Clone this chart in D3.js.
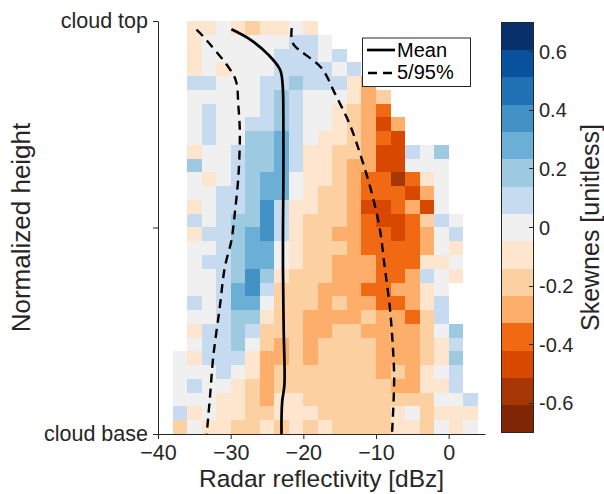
<!DOCTYPE html>
<html>
<head>
<meta charset="utf-8">
<script src="https://cdn.jsdelivr.net/npm/d3@7/dist/d3.min.js"></script>
<style>
body{margin:0;background:#fff;}
svg{display:block;font-family:"Liberation Sans",Arial,Helvetica,sans-serif;}
</style>
</head>
<body>
<script>
// reflectivity bins (lower edge, dBz), 2 dBz wide
var dbzBins = [-38,-36,-34,-32,-30,-28,-26,-24,-22,-20,-18,-16,-14,-12,-10,-8,-6,-4,-2,0,2];
// normalized height bins (lower edge), top row first
var heightBins = [0.9667,0.9333,0.9,0.8667,0.8333,0.8,0.7667,0.7333,0.7,0.6667,0.6333,0.6,0.5667,0.5333,0.5,
                  0.4667,0.4333,0.4,0.3667,0.3333,0.3,0.2667,0.2333,0.2,0.1667,0.1333,0.1,0.0667,0.0333,0];
var N = null;
// skewness per cell, rows follow heightBins, columns follow dbzBins
var skew = [
 [N,-.1,-.1,0,-.1,-.2,-.1,-.1,0,-.1,N,N,N,N,N,N,N,N,N,N,N],
 [N,-.1,0,0,0,0,0,0,.1,.1,0,N,N,N,N,N,N,N,N,N,N],
 [N,-.1,0,0,0,0,0,.1,.1,.1,0,.1,N,N,N,N,N,N,N,N,N],
 [N,-.1,0,-.1,0,0,0,.1,.1,.1,.1,0,.1,N,N,N,N,N,N,N,N],
 [N,.1,.1,0,0,0,.1,.1,.2,.1,.1,.1,-.1,-.3,N,N,N,N,N,N,N],
 [N,0,0,0,0,0,.1,.2,.1,0,0,0,-.1,-.3,-.2,N,N,N,N,N,N],
 [N,0,.1,0,0,0,.1,.2,.1,0,0,-.1,-.2,-.3,-.4,N,N,N,N,N,N],
 [N,0,.1,0,0,.1,.1,.2,.1,0,0,-.1,-.2,-.3,-.5,-.3,N,N,N,N,N],
 [N,0,.1,0,0,.2,.2,.3,.1,0,-.1,-.1,-.2,-.3,-.4,-.5,N,N,N,N,N],
 [N,-.1,0,0,.1,.2,.2,.3,.1,-.1,-.1,-.2,-.2,-.3,-.5,-.5,.1,0,.2,N,N],
 [N,.2,0,0,.1,.2,.2,.3,.1,-.1,-.1,-.2,-.3,-.3,-.5,-.5,0,0,0,N,N],
 [N,0,-.1,0,.1,.2,.3,.3,0,-.1,-.1,-.2,-.3,-.4,-.4,-.6,-.4,-.1,0,N,N],
 [N,0,0,.1,.1,.2,.3,.3,0,-.1,-.2,-.2,-.3,-.4,-.4,-.4,-.5,-.3,0,N,N],
 [N,-.1,0,.1,.1,.2,.4,.1,-.1,-.1,-.2,-.2,-.3,-.5,-.5,-.4,-.3,-.5,0,N,N],
 [N,.1,0,.1,.2,.2,.4,.1,-.1,-.2,-.2,-.2,-.3,-.4,-.5,-.5,-.4,-.2,.1,0,N],
 [N,-.1,.1,.1,.2,.3,.4,.1,-.1,-.2,-.2,-.3,-.3,-.4,-.4,-.5,-.4,-.3,0,.1,N],
 [N,0,0,.1,.2,.3,.3,0,-.1,-.2,-.2,-.2,-.3,-.4,-.4,-.4,-.4,-.3,0,-.1,N],
 [N,0,.1,.1,.2,.3,.3,0,-.1,-.2,-.2,-.3,-.3,-.3,-.4,-.4,-.4,-.1,-.1,0,N],
 [N,0,0,.1,.2,.4,.2,-.1,-.2,-.2,-.2,-.3,-.3,-.3,-.4,-.4,-.3,.1,0,-.1,N],
 [N,0,0,.1,.3,.4,.1,-.2,-.2,-.2,-.3,-.3,-.3,-.4,-.4,-.3,-.3,-.1,0,N,N],
 [N,.1,0,.1,.3,.3,0,-.2,-.2,-.2,-.3,-.2,-.3,-.3,-.4,-.4,-.3,-.1,.1,N,N],
 [N,0,0,.1,.2,.2,-.1,-.2,-.2,-.3,-.3,-.3,-.3,-.2,-.3,-.3,-.4,-.2,.1,N,N],
 [N,-.1,.1,.1,.2,.1,-.2,-.2,-.2,-.3,-.3,-.2,-.2,-.3,-.3,-.3,-.3,-.2,0,.2,N],
 [N,0,.1,.1,.2,0,-.2,-.3,-.2,-.3,-.2,-.2,-.2,-.2,-.3,-.3,-.3,-.2,-.1,.1,N],
 [0,-.1,.1,.1,.1,-.1,-.3,-.3,-.2,-.3,-.2,-.2,-.2,-.2,-.3,-.3,-.3,-.2,-.1,.2,N],
 [0,0,0,.1,0,-.1,-.3,-.2,-.2,-.2,-.2,-.2,-.2,-.2,-.3,-.2,-.3,-.1,0,.1,N],
 [0,.1,0,0,-.1,-.2,-.3,-.2,-.2,-.2,-.2,-.2,-.2,-.2,-.2,-.3,-.3,-.1,-.1,.1,N],
 [0,0,0,-.1,-.1,-.2,-.3,-.1,-.1,-.2,-.2,-.2,-.2,-.2,-.2,-.2,-.2,-.2,0,0,.1],
 [.1,-.1,0,-.1,-.1,-.2,-.2,-.1,-.1,-.1,-.2,-.2,-.2,-.2,-.2,-.1,0,-.2,-.1,-.1,-.1],
 [-.2,0,-.1,-.1,-.2,-.2,-.1,-.2,-.1,-.2,-.1,-.2,-.2,-.2,-.2,-.1,-.1,-.2,0,-.1,0]
];
var binW = 2, binH = 1/30;

// mean and 5/95 percentile profiles [dBz, normalized height]
var meanProfile = [[-29.9,.98],[-27.3,.955],[-24.8,.918],[-23.2,.882],[-22.85,.846],[-22.75,.765],
  [-22.75,.6],[-22.8,.5],[-22.8,.4],[-22.7,.25],[-22.6,.12],[-22.9,.08],[-23.0,.04],[-23.0,0]];
var p05Profile = [[-34.7,.979],[-33.8,.963],[-29.9,.878],[-29.2,.85],[-28.95,.797],[-28.75,.741],
  [-28.75,.7],[-28.95,.62],[-29.4,.539],[-29.65,.499],[-29.9,.468],[-30.8,.404],[-31.5,.307],
  [-32.4,.186],[-32.85,.089],[-33.3,0]];
var p95Profile = [[-21.6,.983],[-21.6,.954],[-21.15,.939],[-17.5,.886],[-15.7,.826],[-13.6,.749],
  [-12.0,.668],[-10.65,.588],[-9.5,.499],[-8.8,.404],[-8.1,.307],[-7.65,.202],[-7.5,.129],[-7.8,0]];

var xTicks = [-40,-30,-20,-10,0];
var yTicks = [0,0.5,1];
var yTickLabels = {0:"cloud base",0.5:"",1:"cloud top"};
var cbTicks = [-0.6,-0.4,-0.2,0,0.2,0.4,0.6];
var cbColors = ['#7f2704','#a63603','#d94801','#f16913','#fdae6b','#fdd0a2','#fee6ce','#f0f0f0',
  '#c6dbef','#9ecae1','#6baed6','#4292c6','#2171b5','#08519c','#08306b'];

var W = 604, H = 494, ink = '#262626';
var svg = d3.select('body').append('svg').attr('width',W).attr('height',H);

var x = d3.scaleLinear().domain([-40,5]).range([158,485]);
var y = d3.scaleLinear().domain([0,1]).range([434,21]);
var color = d3.scaleQuantize().domain([-0.7,0.7]).range(cbColors);

// heatmap cells
var cells = [];
skew.forEach(function(row,i){
	row.forEach(function(v,j){
		if(v!==null) cells.push({x0:dbzBins[j], h0:heightBins[i], v:v});
	});
});
svg.append('g').attr('shape-rendering','crispEdges')
	.selectAll('rect').data(cells).enter().append('rect')
	.attr('x',d=>x(d.x0))
	.attr('y',d=>y(d.h0+binH))
	.attr('width',d=>x(d.x0+binW)-x(d.x0))
	.attr('height',d=>y(d.h0)-y(d.h0+binH))
	.attr('fill',d=>color(d.v));

// profiles
var line = d3.line().x(d=>x(d[0])).y(d=>y(d[1])).curve(d3.curveCatmullRom.alpha(0.5));
svg.append('path').attr('d',line(meanProfile)).attr('fill','none').attr('stroke','#000').attr('stroke-width',2.7);
[p05Profile,p95Profile].forEach(function(p){
	svg.append('path').attr('d',line(p)).attr('fill','none').attr('stroke','#000')
		.attr('stroke-width',2.4).attr('stroke-dasharray','9,6');
});

// axes
var xAxis = svg.append('g').attr('transform','translate(0,434)')
	.call(d3.axisBottom(x).tickValues(xTicks).tickSize(5).tickPadding(6).tickSizeOuter(0));
var yAxis = svg.append('g').attr('transform','translate(158,0)')
	.call(d3.axisLeft(y).tickValues(yTicks).tickSize(5).tickPadding(5).tickSizeOuter(0)
		.tickFormat(d=>yTickLabels[d]));
[xAxis,yAxis].forEach(function(a){
	a.select('.domain').attr('stroke',ink);
	a.selectAll('.tick line').attr('stroke',ink);
	a.selectAll('.tick text').attr('fill',ink).style('font-size','21.5px').style('font-family','inherit');
});

svg.append('text').attr('x',321.5).attr('y',487).attr('text-anchor','middle')
	.style('font-size','24.5px').attr('fill',ink).text('Radar reflectivity [dBz]');
svg.append('text').attr('transform','translate(30,227.5) rotate(-90)').attr('text-anchor','middle')
	.style('font-size','26px').attr('fill',ink).text('Normalized height');

// legend
var lg = svg.append('g');
lg.append('rect').attr('x',362.5).attr('y',38).attr('width',108).attr('height',48.5)
	.attr('fill','#fff').attr('stroke',ink).attr('stroke-width',1);
lg.append('line').attr('x1',367).attr('x2',395).attr('y1',50).attr('y2',50).attr('stroke','#000').attr('stroke-width',2.7);
lg.append('line').attr('x1',367).attr('x2',395).attr('y1',73).attr('y2',73).attr('stroke','#000')
	.attr('stroke-width',2.4).attr('stroke-dasharray','9,6').attr('stroke-dashoffset',-1);
lg.append('text').attr('x',397).attr('y',50).attr('dy','0.35em').style('font-size','20px').attr('fill','#000').text('Mean');
lg.append('text').attr('x',397).attr('y',72).attr('dy','0.35em').style('font-size','20px').attr('fill','#000').text('5/95%');

// colorbar
var cy = d3.scaleLinear().domain([-0.7,0.7]).range([432.5,22.5]);
var cb = svg.append('g').attr('shape-rendering','crispEdges');
cb.selectAll('rect').data(cbColors).enter().append('rect')
	.attr('x',501).attr('width',32)
	.attr('y',function(d){ return cy(color.invertExtent(d)[1]); })
	.attr('height',function(d){ var e=color.invertExtent(d); return cy(e[0])-cy(e[1]); })
	.attr('fill',d=>d);
cb.append('rect').attr('x',501).attr('y',22.5).attr('width',32).attr('height',410)
	.attr('fill','none').attr('stroke',ink).attr('stroke-width',1);
cb.selectAll('line.t').data(cbTicks).enter().append('line').attr('class','t')
	.attr('x1',529).attr('x2',533).attr('y1',d=>cy(d)).attr('y2',d=>cy(d)).attr('stroke',ink);
svg.selectAll('text.cbl').data(cbTicks).enter().append('text').attr('class','cbl')
	.attr('x',539).attr('y',d=>cy(d)).attr('dy','0.35em').style('font-size','20px').attr('fill',ink)
	.text(d=>d3.format('')(+d.toFixed(1)).replace('−','-'));
svg.append('text').attr('transform','translate(599,227.5) rotate(-90)').attr('text-anchor','middle')
	.style('font-size','25px').attr('fill',ink).text('Skewnes [unitless]');
</script>
</body>
</html>
